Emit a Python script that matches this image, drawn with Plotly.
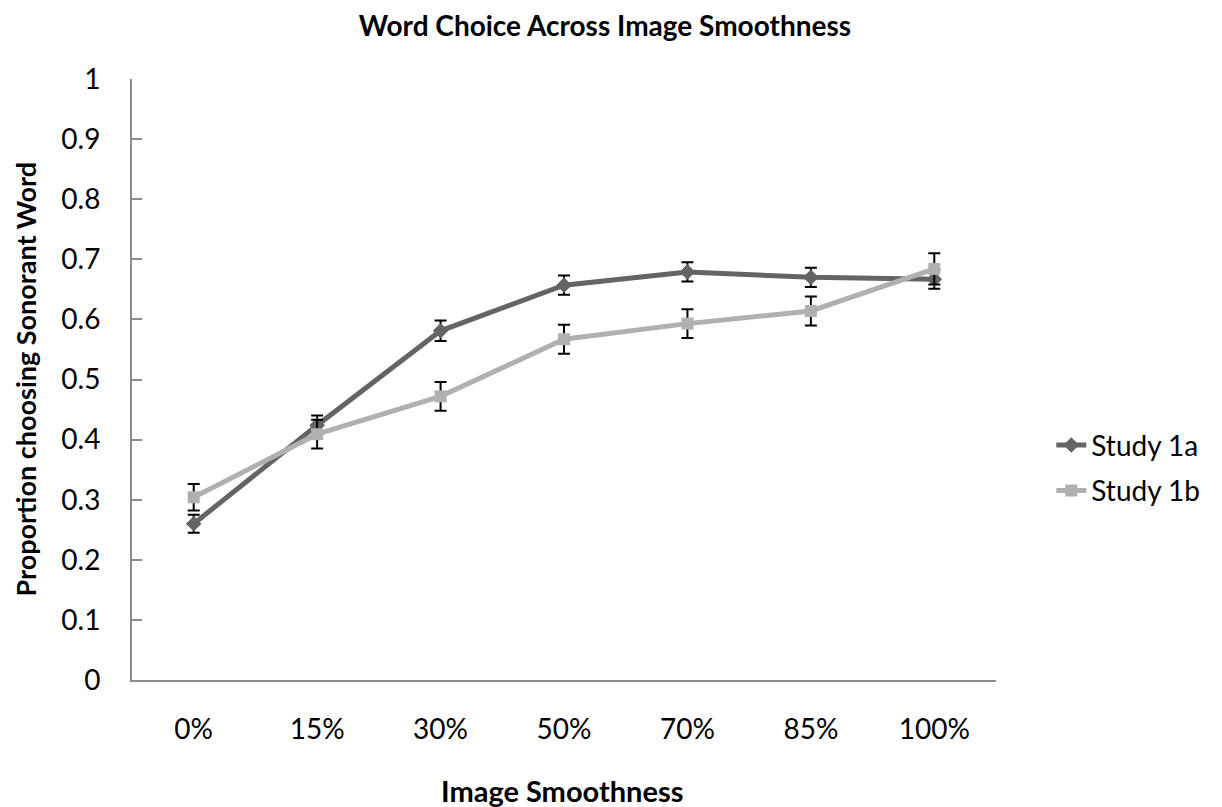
import plotly.graph_objects as go

categories = ["0%", "15%", "30%", "50%", "70%", "85%", "100%"]
study_1a = [0.260, 0.424, 0.581, 0.657, 0.679, 0.670, 0.667]
study_1a_err = [0.015, 0.016, 0.017, 0.016, 0.016, 0.016, 0.016]
study_1b = [0.304, 0.409, 0.472, 0.567, 0.593, 0.614, 0.684]
study_1b_err = [0.022, 0.024, 0.024, 0.024, 0.024, 0.024, 0.026]
y_ticks = [0, 0.1, 0.2, 0.3, 0.4, 0.5, 0.6, 0.7, 0.8, 0.9, 1]
y_tick_labels = ["0", "0.1", "0.2", "0.3", "0.4", "0.5", "0.6", "0.7", "0.8", "0.9", "1"]

FONT = "Lato, 'Open Sans', sans-serif"

fig = go.Figure()
fig.add_trace(go.Scatter(
    x=categories, y=study_1a, name="Study 1a", mode="lines+markers", legendgroup="a",
    line=dict(color="#646464", width=5),
    marker=dict(symbol="diamond", size=12, color="#646464"),
    error_y=dict(type="data", array=study_1a_err, color="black", thickness=2, width=6),
))
fig.add_trace(go.Scatter(
    x=categories, y=study_1b, name="Study 1b", mode="lines+markers", legendgroup="b",
    line=dict(color="#b0b0b0", width=5),
    marker=dict(symbol="square", size=12, color="#b0b0b0"),
    error_y=dict(type="data", array=study_1b_err, color="black", thickness=2, width=6),
))

fig.update_layout(
    width=1222, height=807,
    margin=dict(l=124, r=234, t=71, b=135),
    paper_bgcolor="white", plot_bgcolor="white",
    title=dict(text="<b>Word Choice Across Image Smoothness</b>", x=0.4885, xanchor="center",
               y=0.9777, yanchor="middle", font=dict(family=FONT, size=28, color="black")),
    legend=dict(x=1.064, xanchor="left", y=0.353, yanchor="middle",
                font=dict(family=FONT, size=28, color="black"),
                tracegroupgap=6, bgcolor="rgba(0,0,0,0)"),
    showlegend=True,
    annotations=[
        dict(text="<b>Proportion choosing Sonorant Word</b>", xref="paper", yref="paper",
             x=-0.1238, y=0.5, xanchor="center", yanchor="middle", textangle=-90, showarrow=False,
             font=dict(family=FONT, size=27, color="black")),
        dict(text="<b>Image Smoothness</b>", xref="paper", yref="paper",
             x=0.4977, y=-0.184, xanchor="center", yanchor="middle", showarrow=False,
             font=dict(family=FONT, size=29, color="black")),
    ],
)
fig.update_xaxes(
    type="category", range=[-0.5, 6.5], showline=True, linecolor="#8c8c8c", linewidth=2,
    ticks="", showgrid=False, zeroline=False, ticklabelstandoff=23,
    tickfont=dict(family=FONT, size=28, color="black"),
)
fig.update_yaxes(
    range=[0, 1], tickvals=y_ticks, ticktext=y_tick_labels, showline=True, linecolor="#8c8c8c", linewidth=2,
    ticks="inside", ticklen=10, tickcolor="#8c8c8c", tickwidth=2, showgrid=False, zeroline=False,
    ticklabelstandoff=24,
    tickfont=dict(family=FONT, size=28, color="black"),
)

fig.write_html("out.html")
